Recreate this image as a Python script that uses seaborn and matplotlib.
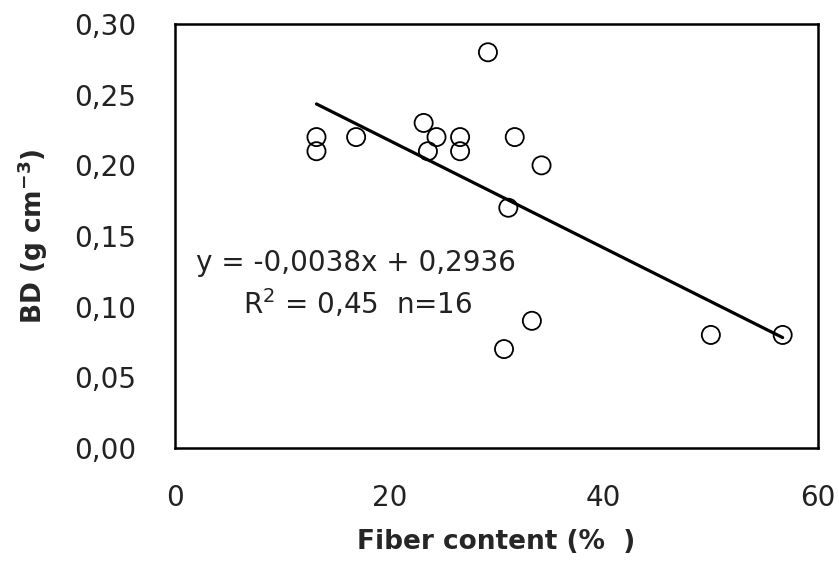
import numpy as np
import pandas as pd
import matplotlib
matplotlib.use("Agg")
import matplotlib.pyplot as plt
import seaborn as sns

# data
fiber = [13.2, 13.2, 16.9, 23.2, 24.4, 23.6, 26.6, 26.6,
         29.2, 31.7, 34.2, 31.1, 33.3, 30.7, 50.0, 56.7]
bd = [0.22, 0.21, 0.22, 0.23, 0.22, 0.21, 0.22, 0.21,
      0.28, 0.22, 0.20, 0.17, 0.09, 0.07, 0.08, 0.08]

# fitted line as printed on the chart
slope = -0.0038
intercept = 0.2936

x_ticks = [0, 20, 40, 60]
y_ticks = [0.00, 0.05, 0.10, 0.15, 0.20, 0.25, 0.30]

df = pd.DataFrame({"fiber": fiber, "bd": bd})
fit_x = np.array([min(fiber), max(fiber)])
fit = pd.DataFrame({"x": fit_x, "y": slope * fit_x + intercept})

sns.set_style("white")
plt.rcParams["font.family"] = ["DejaVu Sans"]
plt.rcParams["mathtext.default"] = "regular"

fig = plt.figure(figsize=(8.39, 5.61), dpi=100)
ax = fig.add_axes([0.2086, 0.2014, 0.7664, 0.7558])

sns.scatterplot(data=df, x="fiber", y="bd", ax=ax, s=170,
                facecolor="none", edgecolor="black", linewidth=1.3, zorder=3)
sns.lineplot(data=fit, x="x", y="y", ax=ax, color="black", linewidth=2.3, zorder=2)

ax.set_xlim(0, 60)
ax.set_ylim(0, 0.30)
ax.set_xticks(x_ticks)
ax.set_yticks(y_ticks)
ax.set_xticklabels([str(t) for t in x_ticks])
ax.set_yticklabels([f"{t:.2f}".replace(".", ",") for t in y_ticks])
ax.tick_params(direction="in", length=8, width=1.8, pad=28,
               labelsize=20, labelcolor="#222222")
ax.tick_params(axis="x", pad=26)

for sp in ax.spines.values():
    sp.set_color("black")
    sp.set_linewidth(1.8)

ax.set_xlabel("Fiber content (%  )", fontsize=19, fontweight="bold", labelpad=12)
ax.set_ylabel("BD (g cm$^{-3}$)", fontsize=19, fontweight="bold", labelpad=17)

ax.text(2.0, 0.125, "y = -0,0038x + 0,2936", fontsize=20, color="#222222")
ax.text(6.3, 0.095, "R$^2$ = 0,45  n=16", fontsize=20, color="#222222")

fig.savefig("out.png", dpi=100, facecolor="white")
